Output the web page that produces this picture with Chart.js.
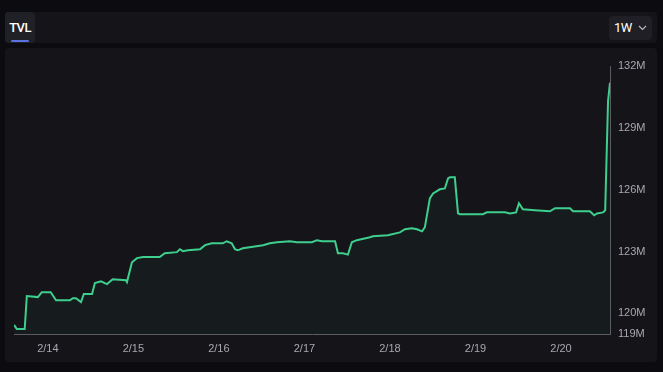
<!DOCTYPE html>
<html>
<head>
<meta charset="utf-8">
<script src="https://cdn.jsdelivr.net/npm/chart.js@4.4.1/dist/chart.umd.min.js"></script>
<style>
  html, body { margin: 0; padding: 0; background: #0b0b10; width: 663px; height: 372px; overflow: hidden; font-family: "Liberation Sans", Arial, sans-serif; }
  .tabs { position: absolute; left: 5px; top: 12px; width: 652px; height: 31px; background: #141419; border-radius: 4px; }
  .tab { position: absolute; left: 0; top: 0; width: 30px; height: 31px; background: #202027; border-radius: 4px; color: #fff; font-family: Roboto, sans-serif; font-size: 13px; font-weight: 500; letter-spacing: -0.6px; text-align: center; line-height: 31px; }
  .tab .bar { position: absolute; left: 6px; bottom: 1px; width: 18px; height: 2px; background: #5b72e0; border-radius: 1px; }
  .range { position: absolute; right: 5px; top: 4px; width: 43px; height: 24px; background: #1f1f25; border-radius: 4px; color: #fff; font-family: Roboto, sans-serif; font-size: 13px; letter-spacing: -0.6px; line-height: 24px; }
  .range span { position: absolute; left: 5px; }
  .range svg { position: absolute; left: 29px; top: 9px; }
  .card { position: absolute; left: 5px; top: 48px; width: 652px; height: 314px; background: #141419; border-radius: 4px; }
  #chart { position: absolute; left: 0; top: 0; }
</style>
</head>
<body>
<div class="tabs">
  <div class="tab">TVL<div class="bar"></div></div>
  <div class="range"><span>1W</span><svg width="9" height="6" viewBox="0 0 9 6"><path d="M1 1 L4.5 4.5 L8 1" stroke="#bbb" stroke-width="1.1" fill="none"/></svg></div>
</div>
<div class="card"><canvas id="chart" width="652" height="314"></canvas></div>
<script>
// hours since 2/14 00:00
const hours = [-9.5, -8.7, -6.5, -5.9, -2.8, -1.7, 0.8, 2.3, 6.2, 7.0, 7.9, 9.3, 10.1, 12.4, 13.2, 14.9, 16.6, 18.2, 21.9, 22.2,
  23.6, 25.0, 26.7, 31.4, 32.8, 36.2, 37.05, 37.9, 39.3, 42.7, 44.1, 46.0, 49.1, 50.2, 51.6, 52.5, 53.3, 54.7, 60.4, 62.3,
  64.3, 67.9, 69.9, 74.1, 75.5, 76.9, 80.6, 81.4, 82.8, 84.2, 85.3, 86.7, 90.4, 91.2, 95.4, 98.8, 100.2, 102.2, 103.6, 105.0,
  105.8, 107.2, 108.1, 110.0, 111.4, 112.3, 112.8, 114.2, 115.1, 115.6, 122.1, 123.2, 128.3, 129.7, 131.4, 132.2, 133.3, 136.7, 140.9, 142.3,
  146.5, 147.4, 152.1, 153.3, 154.1, 155.8, 156.4, 157.2, 157.75];
// TVL in millions
const tvl = [119.44, 119.24, 119.24, 120.84, 120.79, 121.03, 121.03, 120.64, 120.64, 120.74, 120.74, 120.55, 120.94, 120.94, 121.47, 121.56, 121.42, 121.66, 121.61, 121.52,
  122.48, 122.68, 122.73, 122.73, 122.92, 122.97, 123.11, 123.02, 123.06, 123.11, 123.31, 123.40, 123.40, 123.50, 123.40, 123.11, 123.06, 123.16, 123.31, 123.40,
  123.45, 123.50, 123.45, 123.45, 123.55, 123.50, 123.50, 122.92, 122.92, 122.85, 123.45, 123.55, 123.69, 123.74, 123.79, 123.93, 124.08, 124.13, 124.08, 123.98,
  124.18, 125.58, 125.82, 126.02, 126.06, 126.55, 126.60, 126.60, 124.85, 124.81, 124.81, 124.90, 124.90, 124.85, 124.90, 125.34, 125.05, 125.00, 124.95, 125.10,
  125.10, 124.95, 124.95, 124.76, 124.85, 124.90, 125.00, 130.3, 131.19];
const dayTicks = [0, 24, 48, 72, 96, 120, 144];
const dayLabels = ['2/14', '2/15', '2/16', '2/17', '2/18', '2/19', '2/20'];
const yTicks = [119, 120, 123, 126, 129, 132];

const points = hours.map((h, i) => ({ x: h, y: tvl[i] }));

new Chart(document.getElementById('chart'), {
    type: 'line',
    data: {
        datasets: [{
            data: points,
            borderColor: '#3ecf8e',
            borderWidth: 2,
            backgroundColor: 'rgba(62,207,142,0.045)',
            fill: 'start',
            pointRadius: 0,
            tension: 0
        }]
    },
    options: {
        responsive: false,
        animation: false,
        layout: { padding: { left: 9, top: 18, right: 0, bottom: 0 } },
        plugins: { legend: { display: false }, tooltip: { enabled: false } },
        scales: {
            x: {
                type: 'linear',
                min: -9.5,
                max: 157.75,
                afterBuildTicks: axis => { axis.ticks = dayTicks.map(v => ({ value: v })); },
                afterFit: axis => { axis.height = 28; },
                grid: { display: false, drawTicks: false },
                border: { color: '#5c5c63', width: 1 },
                ticks: {
                    padding: 8,
                    color: '#a8a8ae',
                    font: { family: '"Liberation Sans", Arial, sans-serif', size: 11 },
                    maxRotation: 0,
                    callback: v => dayLabels[dayTicks.indexOf(v)]
                }
            },
            y: {
                position: 'right',
                min: 119,
                max: 132,
                afterBuildTicks: axis => { axis.ticks = yTicks.map(v => ({ value: v })); },
                afterFit: axis => { axis.width = 47; },
                grid: { display: false, drawTicks: false },
                border: { color: '#5c5c63', width: 1 },
                ticks: {
                    padding: 8,
                    color: '#a8a8ae',
                    font: { family: '"Liberation Sans", Arial, sans-serif', size: 11 },
                    callback: v => v + 'M'
                }
            }
        }
    }
});
</script>
</body>
</html>
